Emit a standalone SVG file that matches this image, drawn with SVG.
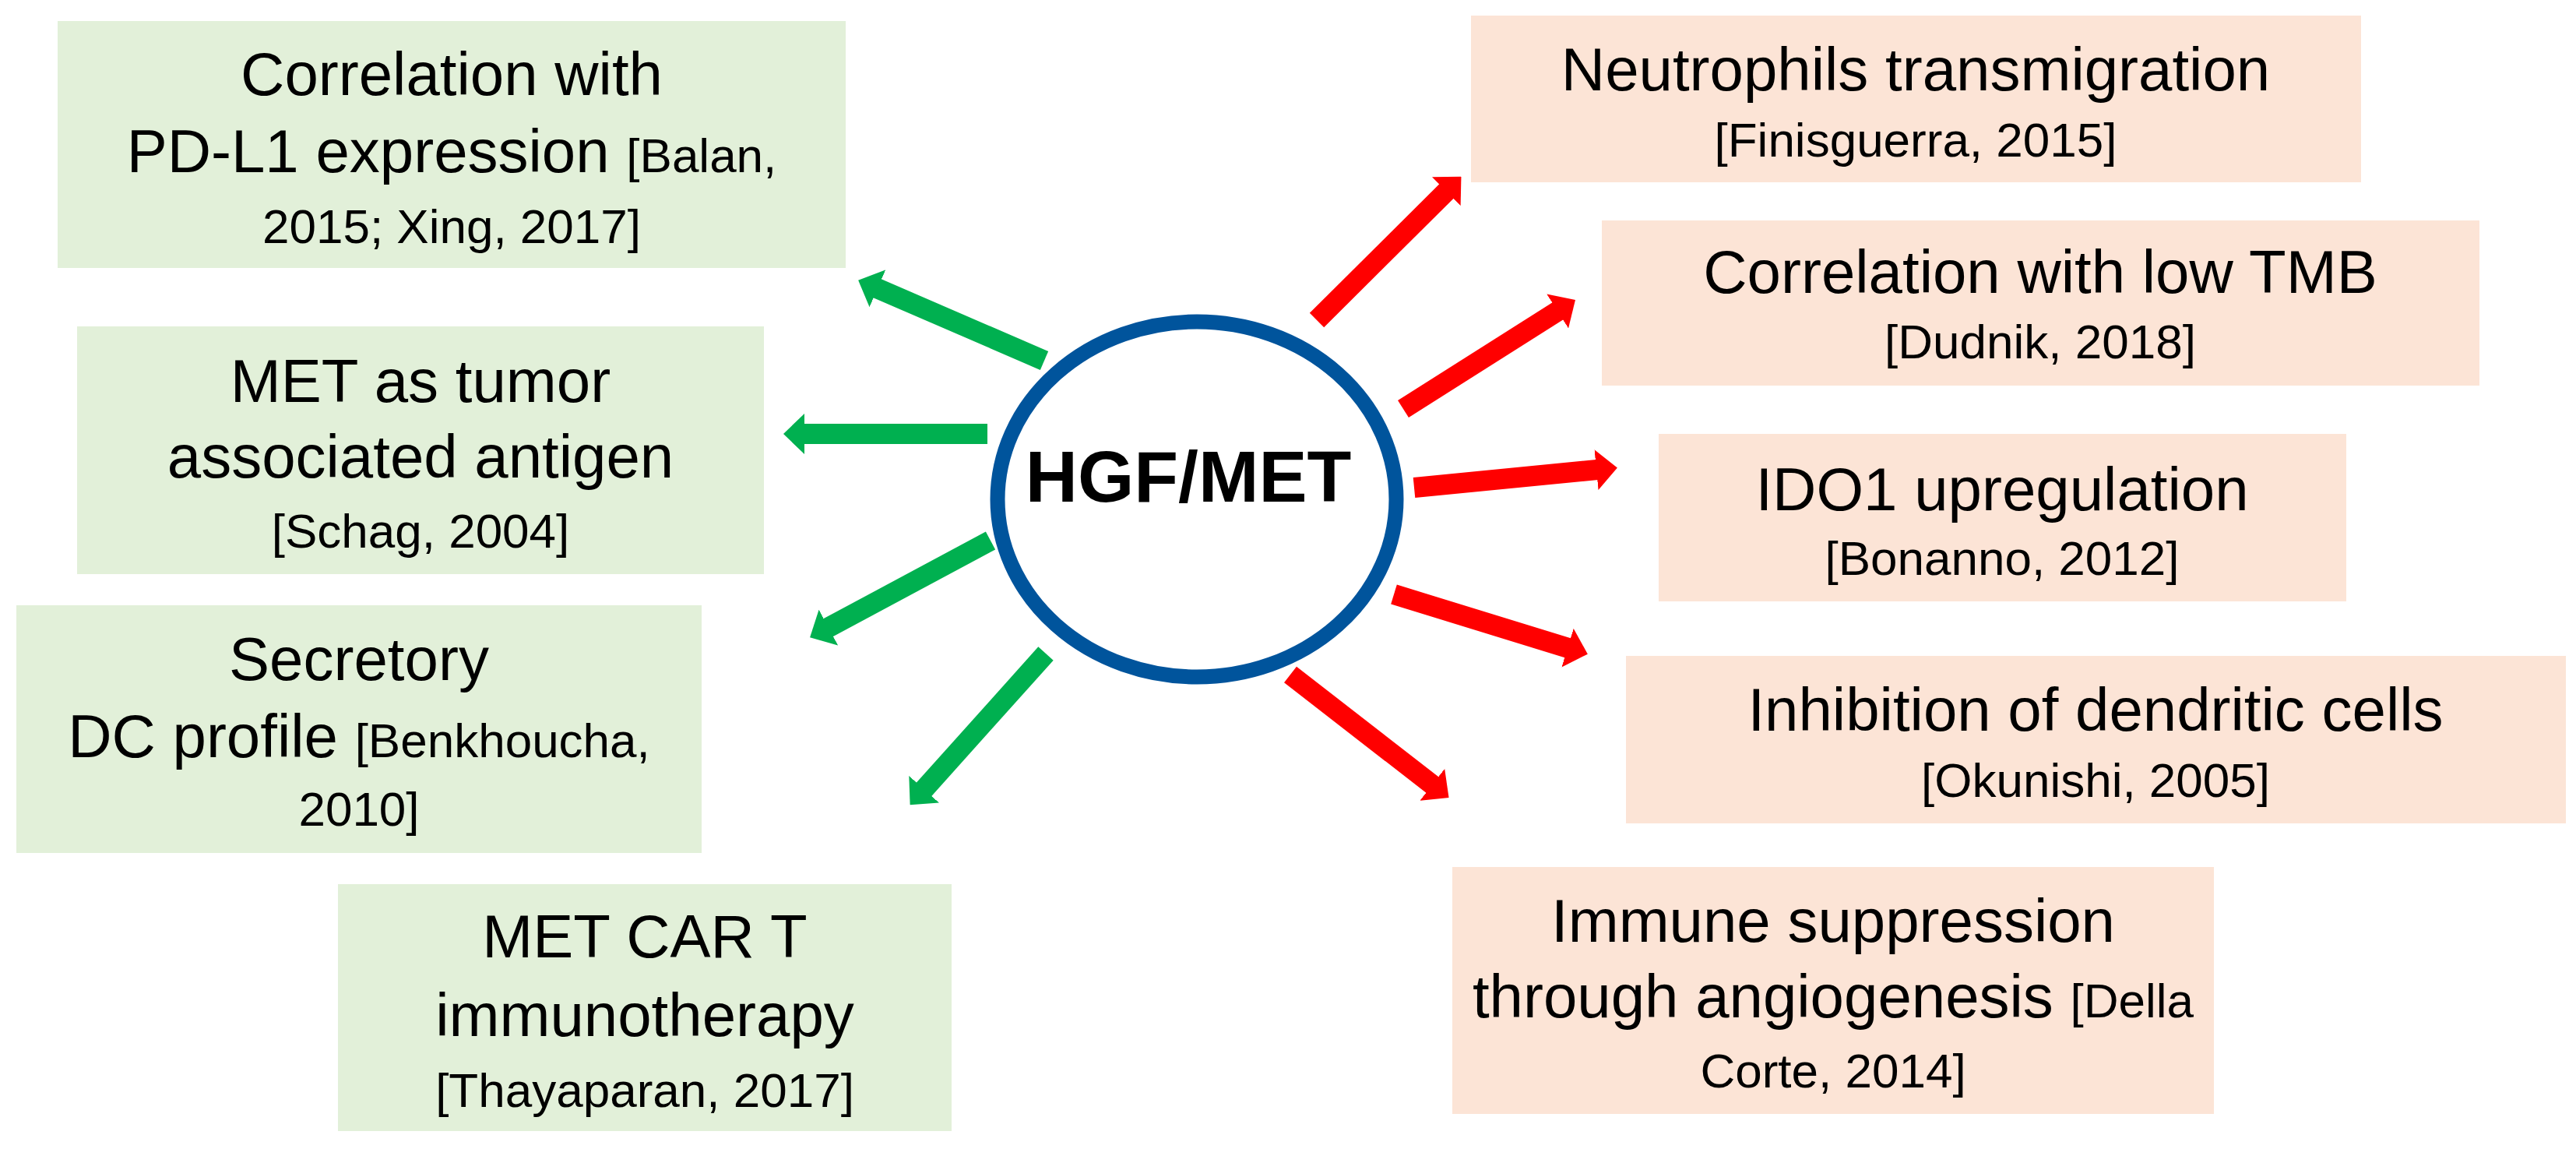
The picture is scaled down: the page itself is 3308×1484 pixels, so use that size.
<svg xmlns="http://www.w3.org/2000/svg" width="3308" height="1484" viewBox="0 0 3308 1484">
<style>
.g{fill:#E2F0D9}
.p{fill:#FCE4D6}
text{font-family:"Liberation Sans",Arial,sans-serif;fill:#000;text-anchor:middle}
.m{font-size:78px}
.c{font-size:62px}
.ag{stroke:#00B050;stroke-width:26;fill:none;marker-end:url(#hg)}
.ar{stroke:#FF0000;stroke-width:26;fill:none;marker-end:url(#hr)}
</style>
<defs>
<marker id="hg" viewBox="0 0 27 52" refX="1" refY="26" markerWidth="27" markerHeight="52" markerUnits="userSpaceOnUse" orient="auto"><path d="M0,0 L27,26 L0,52 Z" fill="#00B050"/></marker>
<marker id="hr" viewBox="0 0 27 52" refX="1" refY="26" markerWidth="27" markerHeight="52" markerUnits="userSpaceOnUse" orient="auto"><path d="M0,0 L27,26 L0,52 Z" fill="#FF0000"/></marker>
</defs>
<rect width="3308" height="1484" fill="#fff"/>
<g id="connectors">
<line class="ag" x1="1341" y1="463" x2="1126" y2="370"/>
<line class="ag" x1="1268" y1="557" x2="1032" y2="557"/>
<line class="ag" x1="1272" y1="694" x2="1063" y2="806"/>
<line class="ag" x1="1343" y1="839" x2="1186" y2="1014"/>
<line class="ar" x1="1691" y1="411" x2="1858" y2="245"/>
<line class="ar" x1="1802" y1="525" x2="2001" y2="399"/>
<line class="ar" x1="1816" y1="626" x2="2051" y2="603"/>
<line class="ar" x1="1790" y1="763" x2="2014" y2="832"/>
<line class="ar" x1="1657" y1="866" x2="1840" y2="1008"/>
</g>
<g id="hgfmet">
<ellipse cx="1537" cy="641" rx="256" ry="228" fill="#fff" stroke="#00549C" stroke-width="19"/>
<text x="1526" y="644" style="font-size:93px;font-weight:bold">HGF/MET</text>
</g>
<g id="pdl1">
<rect class="g" x="74" y="27" width="1012" height="317"/>
<text class="m" x="580" y="122">Correlation with</text>
<text x="580" y="221"><tspan class="m">PD-L1 expression </tspan><tspan class="c">[Balan,</tspan></text>
<text class="c" x="580" y="312">2015; Xing, 2017]</text>
</g>
<g id="taa">
<rect class="g" x="99" y="419" width="882" height="318"/>
<text class="m" x="540" y="516">MET as tumor</text>
<text class="m" x="540" y="613">associated antigen</text>
<text class="c" x="540" y="703">[Schag, 2004]</text>
</g>
<g id="dc">
<rect class="g" x="21" y="777" width="880" height="318"/>
<text class="m" x="461" y="873">Secretory</text>
<text x="461" y="972"><tspan class="m">DC profile </tspan><tspan class="c">[Benkhoucha,</tspan></text>
<text class="c" x="461" y="1060">2010]</text>
</g>
<g id="cart">
<rect class="g" x="434" y="1135" width="788" height="317"/>
<text class="m" x="828" y="1229">MET CAR T</text>
<text class="m" x="828" y="1330">immunotherapy</text>
<text class="c" x="828" y="1421">[Thayaparan, 2017]</text>
</g>
<g id="neutro">
<rect class="p" x="1889" y="20" width="1143" height="214"/>
<text class="m" x="2460" y="116">Neutrophils transmigration</text>
<text class="c" x="2460" y="201">[Finisguerra, 2015]</text>
</g>
<g id="tmb">
<rect class="p" x="2057" y="283" width="1127" height="212"/>
<text class="m" x="2620" y="376">Correlation with low TMB</text>
<text class="c" x="2620" y="460">[Dudnik, 2018]</text>
</g>
<g id="ido1">
<rect class="p" x="2130" y="557" width="883" height="215"/>
<text class="m" x="2571" y="655">IDO1 upregulation</text>
<text class="c" x="2571" y="738">[Bonanno, 2012]</text>
</g>
<g id="dendritic">
<rect class="p" x="2088" y="842" width="1207" height="215"/>
<text class="m" x="2691" y="938">Inhibition of dendritic cells</text>
<text class="c" x="2691" y="1023">[Okunishi, 2005]</text>
</g>
<g id="angio">
<rect class="p" x="1865" y="1113" width="978" height="317"/>
<text class="m" x="2354" y="1209">Immune suppression</text>
<text x="2354" y="1306"><tspan class="m">through angiogenesis </tspan><tspan class="c">[Della</tspan></text>
<text class="c" x="2354" y="1396">Corte, 2014]</text>
</g>
</svg>
